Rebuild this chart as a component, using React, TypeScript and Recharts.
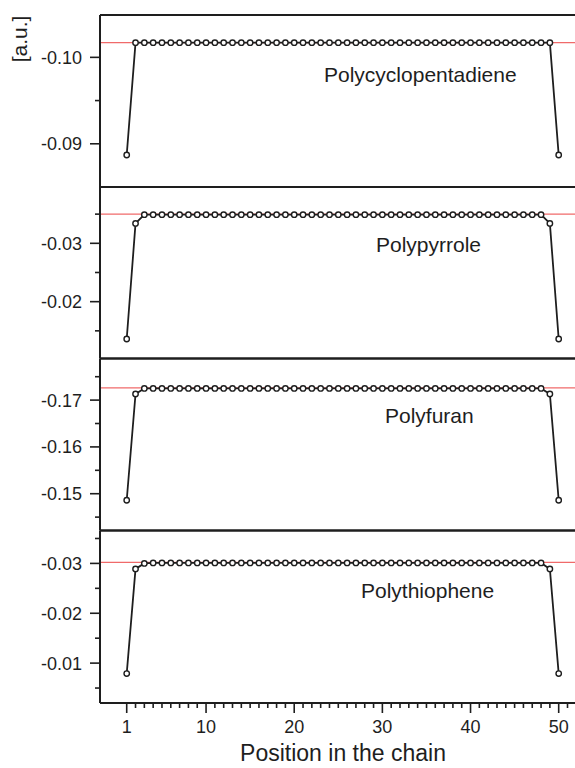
import React from 'react'
import { LineChart, Line, XAxis, YAxis, ReferenceLine } from 'recharts'

// chain positions 1..50
const positions = [
  1, 2, 3, 4, 5, 6, 7, 8, 9, 10,
  11, 12, 13, 14, 15, 16, 17, 18, 19, 20,
  21, 22, 23, 24, 25, 26, 27, 28, 29, 30,
  31, 32, 33, 34, 35, 36, 37, 38, 39, 40,
  41, 42, 43, 44, 45, 46, 47, 48, 49, 50,
]

const polycyclopentadiene = [
  -0.0887, -0.1017, -0.1017, -0.1017, -0.1017, -0.1017, -0.1017, -0.1017, -0.1017, -0.1017,
  -0.1017, -0.1017, -0.1017, -0.1017, -0.1017, -0.1017, -0.1017, -0.1017, -0.1017, -0.1017,
  -0.1017, -0.1017, -0.1017, -0.1017, -0.1017, -0.1017, -0.1017, -0.1017, -0.1017, -0.1017,
  -0.1017, -0.1017, -0.1017, -0.1017, -0.1017, -0.1017, -0.1017, -0.1017, -0.1017, -0.1017,
  -0.1017, -0.1017, -0.1017, -0.1017, -0.1017, -0.1017, -0.1017, -0.1017, -0.1017, -0.0887,
]

const polypyrrole = [
  -0.0136, -0.0334, -0.0349, -0.0349, -0.0349, -0.0349, -0.0349, -0.0349, -0.0349, -0.0349,
  -0.0349, -0.0349, -0.0349, -0.0349, -0.0349, -0.0349, -0.0349, -0.0349, -0.0349, -0.0349,
  -0.0349, -0.0349, -0.0349, -0.0349, -0.0349, -0.0349, -0.0349, -0.0349, -0.0349, -0.0349,
  -0.0349, -0.0349, -0.0349, -0.0349, -0.0349, -0.0349, -0.0349, -0.0349, -0.0349, -0.0349,
  -0.0349, -0.0349, -0.0349, -0.0349, -0.0349, -0.0349, -0.0349, -0.0349, -0.0334, -0.0136,
]

const polyfuran = [
  -0.1486, -0.1713, -0.1725, -0.1725, -0.1725, -0.1725, -0.1725, -0.1725, -0.1725, -0.1725,
  -0.1725, -0.1725, -0.1725, -0.1725, -0.1725, -0.1725, -0.1725, -0.1725, -0.1725, -0.1725,
  -0.1725, -0.1725, -0.1725, -0.1725, -0.1725, -0.1725, -0.1725, -0.1725, -0.1725, -0.1725,
  -0.1725, -0.1725, -0.1725, -0.1725, -0.1725, -0.1725, -0.1725, -0.1725, -0.1725, -0.1725,
  -0.1725, -0.1725, -0.1725, -0.1725, -0.1725, -0.1725, -0.1725, -0.1725, -0.1713, -0.1486,
]

const polythiophene = [
  -0.0079, -0.0289, -0.03, -0.0301, -0.0301, -0.0301, -0.0301, -0.0301, -0.0301, -0.0301,
  -0.0301, -0.0301, -0.0301, -0.0301, -0.0301, -0.0301, -0.0301, -0.0301, -0.0301, -0.0301,
  -0.0301, -0.0301, -0.0301, -0.0301, -0.0301, -0.0301, -0.0301, -0.0301, -0.0301, -0.0301,
  -0.0301, -0.0301, -0.0301, -0.0301, -0.0301, -0.0301, -0.0301, -0.0301, -0.0301, -0.0301,
  -0.0301, -0.0301, -0.0301, -0.0301, -0.0301, -0.0301, -0.0301, -0.0301, -0.0289, -0.0079,
]

// red reference levels per polymer
const referenceLevels = [-0.1017, -0.035, -0.1726, -0.0302]
const panelNames = ['Polycyclopentadiene', 'Polypyrrole', 'Polyfuran', 'Polythiophene']
const panelKeys = ['pcp', 'ppy', 'pfu', 'pth']

const yTicks = [
  [-0.1, -0.095, -0.09],
  [-0.035, -0.03, -0.025, -0.02, -0.015],
  [-0.175, -0.17, -0.165, -0.16, -0.155, -0.15, -0.145],
  [-0.035, -0.03, -0.025, -0.02, -0.015, -0.01, -0.005],
]
const yDomains = [
  [-0.1049, -0.085],
  [-0.03965, -0.01026],
  [-0.17889, -0.14214],
  [-0.0366, -0.002],
]
const xTicks = [
  1, 2, 3, 4, 5, 6, 7, 8, 9, 10, 11, 12, 13, 14, 15, 16, 17, 18, 19, 20,
  21, 22, 23, 24, 25, 26, 27, 28, 29, 30, 31, 32, 33, 34, 35, 36, 37, 38, 39, 40,
  41, 42, 43, 44, 45, 46, 47, 48, 49, 50, 51,
]
const xMajor = [1, 10, 20, 30, 40, 50]

const data = positions.map((pos, i) => ({
  pos,
  pcp: polycyclopentadiene[i],
  ppy: polypyrrole[i],
  pfu: polyfuran[i],
  pth: polythiophene[i],
}))

const W = 575
const H = 768
const FONT = '"Liberation Sans", Arial, Helvetica, sans-serif'
const INK = '#1e1e1e'

// panel geometry: [top, bottom] of plot area, label position
const panels = [
  { top: 15, bottom: 187, lx: 324, ly: 82 },
  { top: 187, bottom: 358.5, lx: 376, ly: 252 },
  { top: 358.5, bottom: 530.5, lx: 385, ly: 423 },
  { top: 530.5, bottom: 703, lx: 361, ly: 598 },
]

const YTick = (props: any) => {
  const { x, y, payload } = props
  const v = payload.value as number
  const major = Math.abs(v * 100 - Math.round(v * 100)) < 1e-6
  return (
    <g>
      <line x1={x - (major ? 10 : 5)} x2={x} y1={y} y2={y} stroke={INK} strokeWidth={1.6} />
      {major && (
        <text x={x - 18} y={y} dy="0.36em" textAnchor="end" fontSize={18} fill={INK} fontFamily={FONT}>
          {v.toFixed(2)}
        </text>
      )}
    </g>
  )
}

const XTick = (props: any) => {
  const { x, y, payload } = props
  const v = payload.value as number
  const major = xMajor.includes(v)
  return (
    <g>
      <line x1={x} x2={x} y1={y} y2={y + (major ? 10 : 5)} stroke={INK} strokeWidth={1.6} />
      {major && (
        <text x={x} y={y + 30} textAnchor="middle" fontSize={18} fill={INK} fontFamily={FONT}>
          {v}
        </text>
      )}
    </g>
  )
}

function Panel({ index }: { index: number }) {
  const p = panels[index]
  const last = index === panels.length - 1
  const bottomAxisH = last ? 65 : 1
  const [lo, hi] = yDomains[index]
  return (
    <div style={{ position: 'absolute', left: 0, top: 0 }}>
      <LineChart
        width={W}
        height={H}
        data={data}
        margin={{ top: p.top, bottom: H - p.bottom - bottomAxisH, left: 0, right: 0 }}
      >
        <XAxis
          dataKey="pos"
          type="number"
          domain={[-2.03, 51.85]}
          allowDataOverflow
          ticks={last ? xTicks : []}
          interval={0}
          tick={last ? (t: any) => <XTick {...t} /> : false}
          tickLine={false}
          tickSize={0}
          tickMargin={0}
          height={bottomAxisH}
          axisLine={last ? { stroke: INK, strokeWidth: 2 } : false}
        />
        <YAxis
          type="number"
          reversed
          domain={yDomains[index]}
          allowDataOverflow
          ticks={yTicks[index]}
          interval={0}
          width={100}
          tickSize={0}
          tickMargin={0}
          tickLine={false}
          tick={(t: any) => <YTick {...t} />}
          axisLine={{ stroke: INK, strokeWidth: 2 }}
        />
        {/* panel frame: top and bottom borders */}
        <ReferenceLine y={lo} stroke={INK} strokeWidth={2} />
        {!last && <ReferenceLine y={hi} stroke={INK} strokeWidth={2} />}
        <ReferenceLine y={referenceLevels[index]} stroke="#f06a6a" strokeWidth={1.2} />
        <Line
          dataKey={panelKeys[index]}
          stroke={INK}
          strokeWidth={1.8}
          dot={{ r: 2.7, fill: '#fff', stroke: INK, strokeWidth: 1.4 }}
          activeDot={false}
          isAnimationActive={false}
        />
      </LineChart>
    </div>
  )
}

export default function App() {
  return (
    <div
      style={{
        position: 'absolute',
        left: 0,
        top: 0,
        width: W,
        height: H,
        overflow: 'hidden',
        background: '#fff',
        fontFamily: FONT,
      }}
    >
      {panels.map((_, i) => (
        <Panel key={i} index={i} />
      ))}
      <svg width={W} height={H} style={{ position: 'absolute', left: 0, top: 0, pointerEvents: 'none' }}>
        {panels.map((p, i) => (
          <text key={i} x={p.lx} y={p.ly} fontSize={21} fill={INK} fontFamily={FONT}>
            {panelNames[i]}
          </text>
        ))}
        <text
          x={19}
          y={39}
          transform="rotate(-90 19 39)"
          textAnchor="middle"
          dominantBaseline="central"
          fontSize={21}
          fill={INK}
          fontFamily={FONT}
        >
          [a.u.]
        </text>
        <text x={343} y={761} textAnchor="middle" fontSize={23} fill={INK} fontFamily={FONT}>
          Position in the chain
        </text>
      </svg>
    </div>
  )
}
